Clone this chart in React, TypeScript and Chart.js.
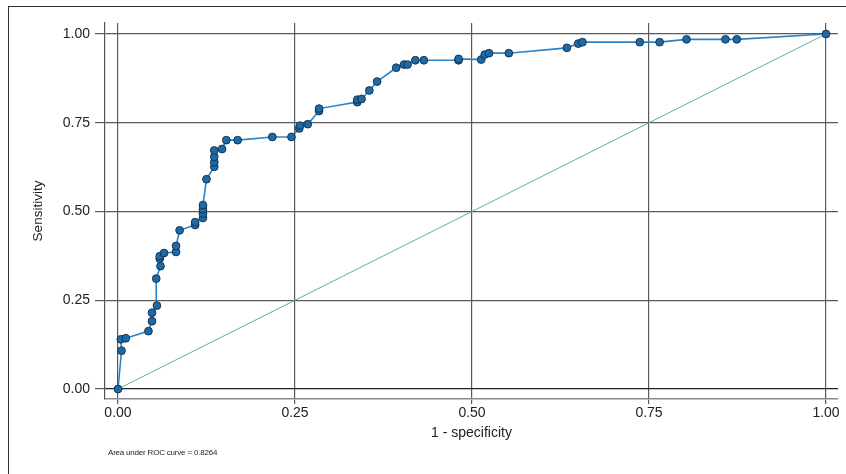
import React, { useEffect, useRef } from "react";
import { Chart, registerables } from "chart.js";

Chart.register(...registerables);

// 1 - specificity (false positive rate)
const fpr = [
  0, 0.005, 0.004, 0.011, 0.043, 0.048, 0.048, 0.055, 0.054, 0.060, 0.059, 0.059,
  0.065, 0.082, 0.082, 0.087, 0.109, 0.109, 0.120, 0.120, 0.120, 0.120, 0.125,
  0.136, 0.136, 0.136, 0.136, 0.147, 0.153, 0.169, 0.218, 0.245, 0.256, 0.257,
  0.268, 0.284, 0.284, 0.338, 0.338, 0.344, 0.355, 0.366, 0.393, 0.404, 0.409,
  0.420, 0.432, 0.481, 0.481, 0.513, 0.518, 0.524, 0.552, 0.634, 0.650, 0.656,
  0.737, 0.765, 0.803, 0.858, 0.874, 1.0,
];
// sensitivity (true positive rate)
const tpr = [
  0, 0.108, 0.140, 0.143, 0.163, 0.191, 0.215, 0.235, 0.311, 0.346, 0.367, 0.374,
  0.383, 0.386, 0.403, 0.447, 0.462, 0.470, 0.482, 0.494, 0.506, 0.518, 0.591,
  0.626, 0.639, 0.654, 0.672, 0.676, 0.701, 0.701, 0.710, 0.710, 0.734, 0.742,
  0.746, 0.783, 0.790, 0.808, 0.815, 0.817, 0.841, 0.866, 0.905, 0.914, 0.914,
  0.926, 0.926, 0.926, 0.930, 0.928, 0.942, 0.946, 0.946, 0.961, 0.973, 0.977,
  0.977, 0.977, 0.985, 0.985, 0.985, 1.0,
];
const refX = [0, 1];
const refY = [0, 1];
const tickValues = [0, 0.25, 0.5, 0.75, 1];
const tickLabels = ["0.00", "0.25", "0.50", "0.75", "1.00"];
const xTitle = "1 - specificity";
const yTitle = "Sensitivity";
const note = "Area under ROC curve = 0.8264";

const FONT = "'Liberation Sans', Arial, Helvetica, sans-serif";

export default function App() {
  const ref = useRef<HTMLCanvasElement | null>(null);

  useEffect(() => {
    if (!ref.current) return;
    const setTicks = (scale: any) => {
      scale.ticks = tickValues.map((v) => ({ value: v }));
    };
    const fmt = (v: any) => {
      const i = tickValues.indexOf(Number(v));
      return i >= 0 ? tickLabels[i] : "";
    };
    const chart = new Chart(ref.current, {
      type: "scatter",
      data: {
        datasets: [
          {
            label: "ROC",
            data: fpr.map((x, i) => ({ x, y: tpr[i] })),
            showLine: true,
            borderColor: "#2b83c6",
            borderWidth: 1.6,
            backgroundColor: "#1f6aa5",
            pointBorderColor: "#0d2f4d",
            pointBorderWidth: 0.9,
            pointRadius: 3.9,
            pointHoverRadius: 3.9,
            order: 1,
          },
          {
            label: "Reference",
            data: refX.map((x, i) => ({ x, y: refY[i] })),
            showLine: true,
            borderColor: "#6aa9a0",
            borderWidth: 1,
            pointRadius: 0,
            order: 2,
          },
        ],
      },
      options: {
        animation: false,
        responsive: false,
        maintainAspectRatio: false,
        layout: { padding: { left: 0, right: 8, top: 23, bottom: 0 } },
        plugins: {
          legend: { display: false },
          tooltip: { enabled: false },
        },
        scales: {
          x: {
            type: "linear",
            min: -0.01836,
            max: 1.01695,
            afterBuildTicks: setTicks,
            afterFit: (s: any) => {
              s.height = 75;
            },
            grid: {
              color: "#5a5a5a",
              lineWidth: 1.2,
              tickLength: 5,
              tickColor: "#5a5a5a",
              drawTicks: true,
            },
            border: { display: true, color: "#8a8a8a", width: 1.5 },
            ticks: {
              callback: fmt,
              color: "#222",
              padding: 1,
              maxRotation: 0,
              autoSkip: false,
              font: { family: FONT, size: 14 },
            },
            title: {
              display: true,
              text: xTitle,
              color: "#222",
              font: { family: FONT, size: 14 },
              padding: { top: 0, bottom: 32.6 },
            },
          },
          y: {
            type: "linear",
            min: -0.02817,
            max: 1.031,
            afterBuildTicks: setTicks,
            afterFit: (s: any) => {
              s.width = 105;
            },
            grid: {
              color: (ctx: any) =>
                ctx.tick && ctx.tick.value === 0 ? "#222" : "#5a5a5a",
              lineWidth: 1.2,
              tickLength: 10,
              tickColor: "#5a5a5a",
              drawTicks: true,
            },
            border: { display: true, color: "#555", width: 1.2 },
            ticks: {
              callback: fmt,
              color: "#222",
              padding: 5,
              autoSkip: false,
              font: { family: FONT, size: 14 },
            },
            title: {
              display: true,
              text: yTitle,
              color: "#222",
              font: { family: FONT, size: 13.5 },
              padding: { top: 30, bottom: 0 },
            },
          },
        },
      },
    });
    return () => chart.destroy();
  }, []);

  return (
    <div
      style={{
        position: "fixed",
        left: 0,
        top: 0,
        width: 846,
        height: 474,
        background: "#fff",
        overflow: "hidden",
      }}
    >
      <canvas
        ref={ref}
        width={846}
        height={474}
        style={{ position: "absolute", left: 0, top: 0, width: 846, height: 474 }}
      />
      <div
        style={{
          position: "absolute",
          left: 8,
          top: 6,
          width: 838,
          height: 468,
          borderLeft: "1px solid #333",
          borderTop: "1px solid #333",
          pointerEvents: "none",
        }}
      />
      <div
        style={{
          position: "absolute",
          left: 108,
          top: 448,
          fontFamily: FONT,
          fontSize: 8,
          color: "#222",
          whiteSpace: "nowrap",
          letterSpacing: -0.2,
        }}
      >
        {note}
      </div>
    </div>
  );
}
